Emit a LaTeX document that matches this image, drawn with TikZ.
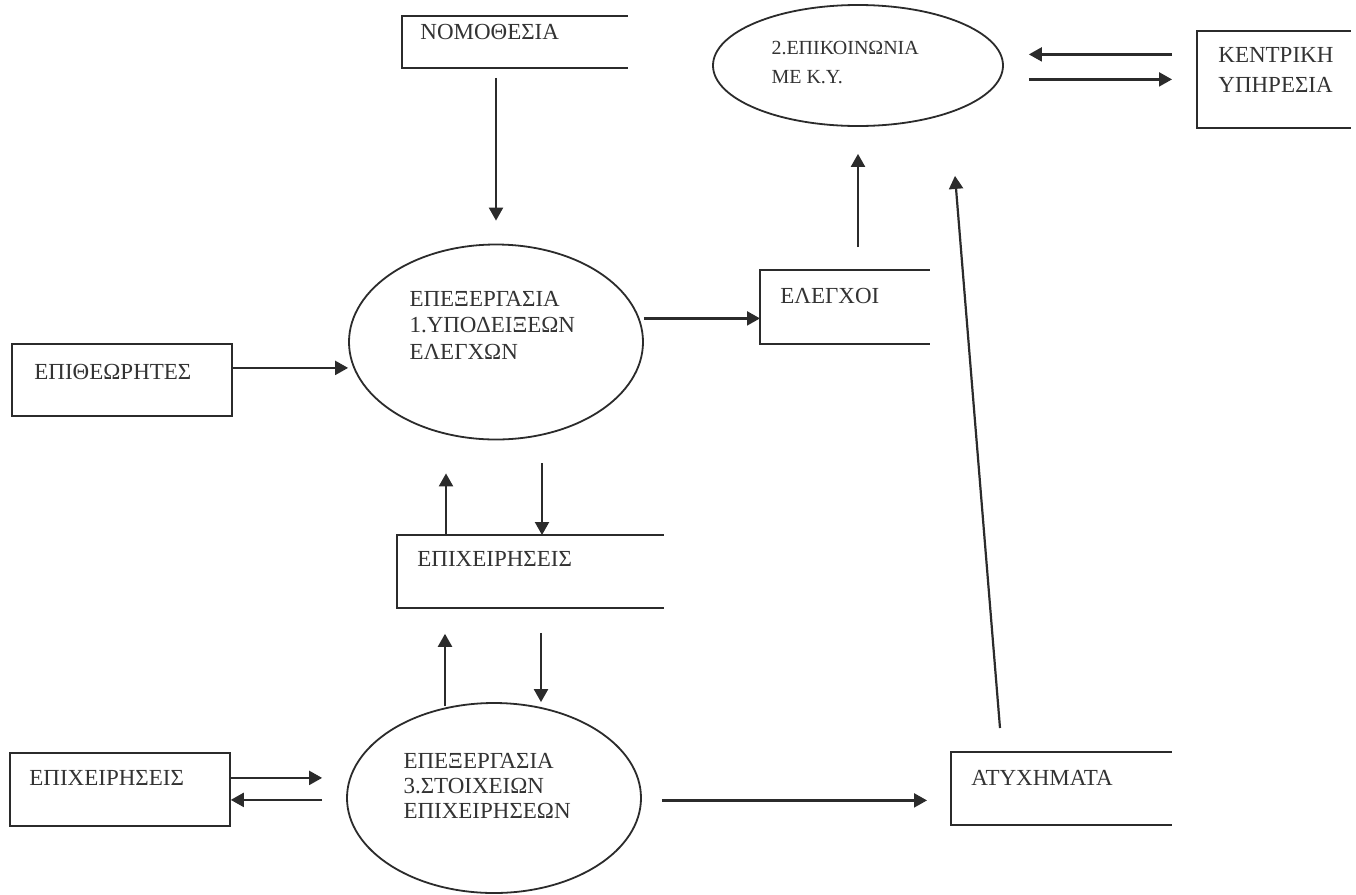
\documentclass[tikz,border=0pt]{standalone}
\usepackage{fontspec}
\setmainfont{Liberation Serif}
\usetikzlibrary{shapes.geometric, arrows.meta, calc}
\definecolor{ink}{HTML}{2B2B2B}
\definecolor{txt}{HTML}{333333}

\begin{document}
\begin{tikzpicture}[x=0.5pt, y=-0.5pt,
  proc/.style={ellipse, draw=ink, line width=0.9pt, inner sep=0pt},
  storebox/.style={inner sep=0pt, anchor=north west},
  extbox/.style={draw=ink, line width=0.9pt, inner sep=0pt, anchor=north west},
  storeline/.style={draw=ink, line width=0.9pt},
  lbl/.style={text=txt, inner sep=0pt, anchor=north west, align=left,
              font=\fontsize{11.5}{13.25}\selectfont},
  flow/.style={draw=ink, line width=1.1pt, -{Triangle[length=6.5pt,width=7pt]}},
]
\fill[white] (0,0) rectangle (1356,895);
\useasboundingbox (0,0) rectangle (1356,895);

% processes
\node[proc, minimum width=147pt, minimum height=97.5pt] (p1) at (496,342) {};
\node[proc, minimum width=145pt, minimum height=60.5pt] (p2) at (858,65.5) {};
\node[proc, minimum width=147pt, minimum height=95pt]   (p3) at (494,798) {};

\node[lbl] (p1-t) at ($(p1.west)+(61,-51.5)$) {ΕΠΕΞΕΡΓΑΣΙΑ\\1.ΥΠΟΔΕΙΞΕΩΝ\\ΕΛΕΓΧΩΝ};
\node[lbl, font=\fontsize{10}{14.5}\selectfont] (p2-t) at ($(p2.west)+(59,-25)$) {2.ΕΠΙΚΟΙΝΩΝΙΑ\\ΜΕ Κ.Υ.};
\node[lbl, font=\fontsize{11.5}{12.5}\selectfont] (p3-t) at ($(p3.west)+(57,-45.5)$) {ΕΠΕΞΕΡΓΑΣΙΑ\\3.ΣΤΟΙΧΕΙΩΝ\\ΕΠΙΧΕΙΡΗΣΕΩΝ};

% data stores (open on the right)
\node[storebox, minimum width=112.5pt, minimum height=25.5pt] (nomo)  at (402,16)  {};
\node[storebox, minimum width=84.5pt,  minimum height=36.5pt] (elegx) at (760,270) {};
\node[storebox, minimum width=133pt,   minimum height=36pt]   (epmid) at (397,535) {};
\node[storebox, minimum width=110pt,   minimum height=36pt]   (atyx)  at (951,752) {};
\node[storebox, minimum width=76.5pt,  minimum height=48pt]   (kent)  at (1197,31) {};
\foreach \s in {nomo,elegx,epmid,atyx,kent}
  \draw[storeline] (\s.north east) -- (\s.north west) -- (\s.south west) -- (\s.south east);

\node[lbl] (nomo-t)  at ($(nomo.north west)+(18,7.5)$)  {ΝΟΜΟΘΕΣΙΑ};
\node[lbl] (elegx-t) at ($(elegx.north west)+(20,17.5)$) {ΕΛΕΓΧΟΙ};
\node[lbl] (epmid-t) at ($(epmid.north west)+(20,16.5)$) {ΕΠΙΧΕΙΡΗΣΕΙΣ};
\node[lbl] (atyx-t)  at ($(atyx.north west)+(20,17.5)$)  {ΑΤΥΧΗΜΑΤΑ};
\node[lbl, font=\fontsize{11.5}{15}\selectfont] (kent-t) at ($(kent.north west)+(21,16.5)$) {ΚΕΝΤΡΙΚΗ\\ΥΠΗΡΕΣΙΑ};

% external entities
\node[extbox, minimum width=110pt, minimum height=36pt]   (epith) at (11,343) {};
\node[extbox, minimum width=110pt, minimum height=36.5pt] (epl)   at (9,752)  {};
\node[lbl] (epith-t) at ($(epith.north west)+(23,20.5)$) {ΕΠΙΘΕΩΡΗΤΕΣ};
\node[lbl] (epl-t)   at ($(epl.north west)+(20,18.5)$)   {ΕΠΙΧΕΙΡΗΣΕΙΣ};

% flows
\draw[flow, shorten <=5pt, shorten >=11.5pt] (nomo.south -| p1.north) -- (p1.north);

\coordinate (c-epith) at ($(epith.east)+(0,-12)$);
\draw[flow] (c-epith) -- (c-epith -| p1.west);

\coordinate (c-elegx) at ($(elegx.west)+(0,11.5)$);
\draw[flow] (c-elegx -| p1.east) -- (c-elegx);

\draw[flow, shorten <=11.5pt, shorten >=13.5pt] (elegx.north -| p2.south) -- (p2.south);

\coordinate (c-acc-a) at ($(atyx.north west)+(49,-24)$);
\coordinate (c-acc-b) at ($(p2.south)+(97,49)$);
\draw[flow] (c-acc-a) -- (c-acc-b);

\coordinate (c-kent) at ($(kent.west)+(0,-25)$);
\draw[flow, shorten <=12.5pt, shorten >=12.5pt] (c-kent) -- (c-kent -| p2.east);
\draw[flow, shorten <=12.5pt, shorten >=12.5pt] (kent.west -| p2.east) -- (kent.west);

\coordinate (c-up1) at ($(epmid.north west)+(49,0)$);
\draw[flow, shorten >=16.5pt] (c-up1) -- (c-up1 |- p1.south);
\coordinate (c-dn1) at ($(epmid.north west)+(145,0)$);
\draw[flow, shorten <=11.5pt] (c-dn1 |- p1.south) -- (c-dn1);

\coordinate (c-up2) at ($(epmid.south west)+(48,0)$);
\draw[flow, shorten <=-2pt, shorten >=13pt] (c-up2 |- p3.north) -- (c-up2);
\coordinate (c-dn2) at ($(epmid.south west)+(144,0)$);
\draw[flow, shorten <=12.5pt] (c-dn2) -- (c-dn2 |- p3.north);

\coordinate (c-epl-a) at ($(epl.east)+(0,-11.5)$);
\draw[flow, shorten >=12pt] (c-epl-a) -- (c-epl-a -| p3.west);
\coordinate (c-epl-b) at ($(epl.east)+(0,10.5)$);
\draw[flow, shorten <=12pt] (c-epl-b -| p3.west) -- (c-epl-b);

\coordinate (c-atyx) at ($(atyx.west)+(0,12)$);
\draw[flow, shorten <=10pt, shorten >=12pt] (c-atyx -| p3.east) -- (c-atyx);
\end{tikzpicture}
\end{document}
